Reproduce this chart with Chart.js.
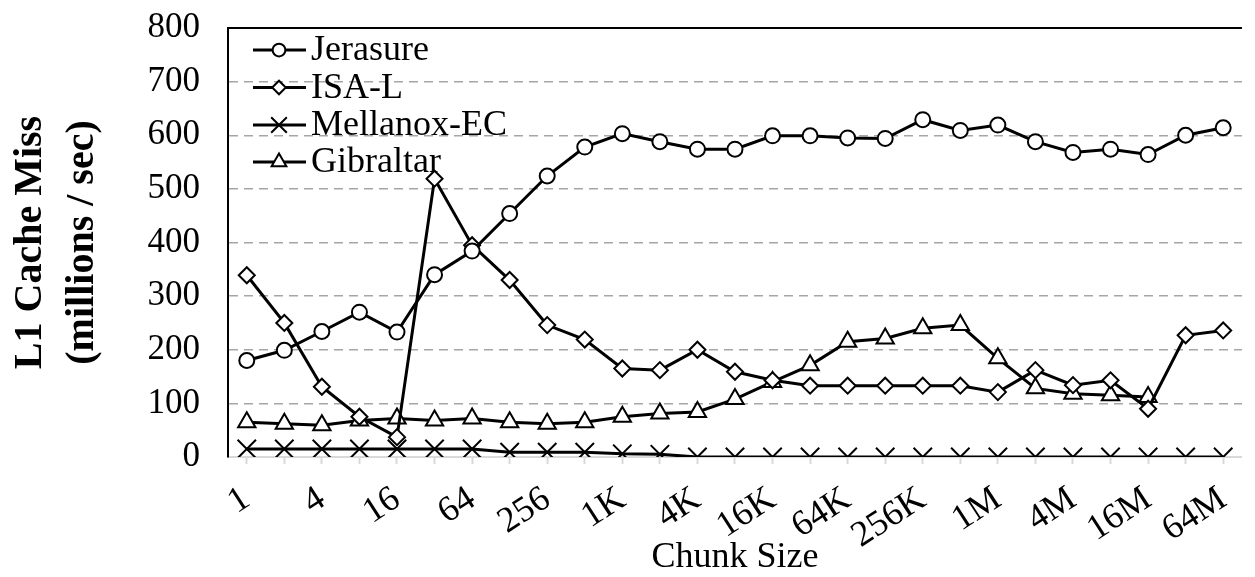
<!DOCTYPE html>
<html>
<head>
<meta charset="utf-8">
<script src="https://cdn.jsdelivr.net/npm/chart.js@4.4.1/dist/chart.umd.min.js"></script>
<style>
  html, body { margin: 0; padding: 0; background: #fff; overflow: hidden; }
  canvas { display: block; }
</style>
</head>
<body>
<canvas id="chart" width="1261" height="577"></canvas>
<script>
// chunk sizes on the x axis (every other one gets a label)
const chunkSizes = ['1', '2', '4', '8', '16', '32', '64', '128', '256', '512',
    '1K', '2K', '4K', '8K', '16K', '32K', '64K', '128K', '256K', '512K',
    '1M', '2M', '4M', '8M', '16M', '32M', '64M'];

// L1 cache misses, millions / sec
const jerasure = [180, 199, 234, 270, 233, 340, 384, 454, 524, 578, 603, 588, 574, 574,
    599, 599, 595, 594, 629, 609, 619, 588, 568, 574, 564, 600, 614];
const isaL = [339, 250, 131, 75, 37, 519, 395, 330, 246, 219, 165, 162, 200, 159,
    143, 133, 133, 133, 133, 133, 121, 162, 134, 143, 90, 227, 236];
const mellanox = [15, 15, 15, 15, 15, 15, 15, 9, 9, 9, 6, 5, 0, 0,
    0, 0, 0, 0, 0, 0, 0, 0, 0, 0, 0, 0, 0];
const gibraltar = [65, 62, 59, 68, 72, 68, 72, 65, 62, 65, 75, 81, 84, 108,
    140, 171, 215, 221, 240, 246, 184, 128, 118, 115, 112, null, null];

const seriesNames = ['Jerasure', 'ISA-L', 'Mellanox-EC', 'Gibraltar'];
const seriesMarkers = ['circle', 'rectRot', 'crossRot', 'triangle'];
const markerSizes = [7.5, 8, 13, 10];

const FONT = "'Liberation Serif', 'Times New Roman', serif";
Chart.defaults.font.family = FONT;
Chart.defaults.color = '#000';

function makeSet(label, data, i) {
    return {
        label: label,
        data: data,
        borderColor: '#000',
        borderWidth: 3,
        pointStyle: seriesMarkers[i],
        pointRadius: markerSizes[i],
        pointBorderWidth: 2,
        pointBorderColor: '#000',
        pointBackgroundColor: '#fff',
        tension: 0,
        spanGaps: false
    };
}

// legend drawn inside the plot: line + marker + name
const insideLegend = {
    id: 'insideLegend',
    afterDatasetsDraw(chart) {
        const ctx = chart.ctx;
        const x0 = 253, x1 = 306, xm = 279, xt = 311;
        const rows = [50, 87.5, 125, 162];
        ctx.save();
        seriesNames.forEach((name, i) => {
            const y = rows[i];
            ctx.strokeStyle = '#000';
            ctx.lineWidth = 3;
            ctx.beginPath();
            ctx.moveTo(x0, y);
            ctx.lineTo(x1, y);
            ctx.stroke();
            ctx.fillStyle = '#fff';
            ctx.lineWidth = 2;
            Chart.helpers.drawPoint(ctx, {
                pointStyle: seriesMarkers[i],
                radius: markerSizes[i] * 0.85,
                borderWidth: 2,
                rotation: 0
            }, xm, y);
            ctx.fillStyle = '#000';
            ctx.font = '36px ' + FONT;
            ctx.textAlign = 'left';
            ctx.textBaseline = 'middle';
            ctx.fillText(name, xt, y + 1);
        });
        ctx.restore();
    }
};

// black frame line along the top of the plot area
const topFrame = {
    id: 'topFrame',
    beforeDatasetsDraw(chart) {
        const a = chart.chartArea, ctx = chart.ctx;
        ctx.save();
        ctx.strokeStyle = '#000';
        ctx.lineWidth = 2;
        ctx.beginPath();
        ctx.moveTo(a.left - 1, a.top);
        ctx.lineTo(a.right, a.top);
        ctx.stroke();
        ctx.restore();
    }
};

new Chart(document.getElementById('chart'), {
    type: 'line',
    data: {
        labels: chunkSizes,
        datasets: [
            makeSet('Jerasure', jerasure, 0),
            makeSet('ISA-L', isaL, 1),
            makeSet('Mellanox-EC', mellanox, 2),
            makeSet('Gibraltar', gibraltar, 3)
        ]
    },
    options: {
        responsive: false,
        animation: false,
        layout: { padding: { top: 28, left: 0, right: 0, bottom: 0 } },
        plugins: { legend: { display: false }, tooltip: { enabled: false } },
        scales: {
            x: {
                offset: true,
                afterFit(scale) { scale.height = 120; },
                grid: {
                    drawOnChartArea: false,
                    drawTicks: true,
                    tickLength: 7,
                    tickColor: '#d9d9d9',
                    tickWidth: 2
                },
                border: { color: '#d9d9d9', width: 2 },
                ticks: {
                    autoSkip: false,
                    minRotation: 33,
                    maxRotation: 33,
                    padding: 14,
                    color: '#000',
                    font: { size: 36 },
                    callback(value, index) {
                        return index % 2 === 0 ? this.getLabelForValue(value) : '';
                    }
                },
                title: {
                    display: true,
                    text: 'Chunk Size',
                    color: '#000',
                    font: { size: 36 },
                    padding: { top: 0, bottom: -2 }
                }
            },
            y: {
                min: 0,
                max: 800,
                afterFit(scale) {
                    scale.width = 228;
                    scale.paddingTop = 0;
                    scale.paddingBottom = 0;
                },
                grid: {
                    drawTicks: false,
                    lineWidth: 1.5,
                    color: (c) => (c.tick && (c.tick.value === 0 || c.tick.value === 800)) ? 'rgba(0,0,0,0)' : '#a6a6a6'
                },
                border: { color: '#000', width: 2, dash: [9, 6] },
                ticks: {
                    stepSize: 100,
                    padding: 28,
                    color: '#000',
                    font: { size: 35 }
                },
                title: {
                    display: true,
                    text: ['L1 Cache Miss', '(millions / sec)'],
                    color: '#000',
                    font: { size: 40, weight: 'bold', lineHeight: 1.3 },
                    padding: { top: 5, bottom: 0 }
                }
            }
        }
    },
    plugins: [topFrame, insideLegend]
});
</script>
</body>
</html>
